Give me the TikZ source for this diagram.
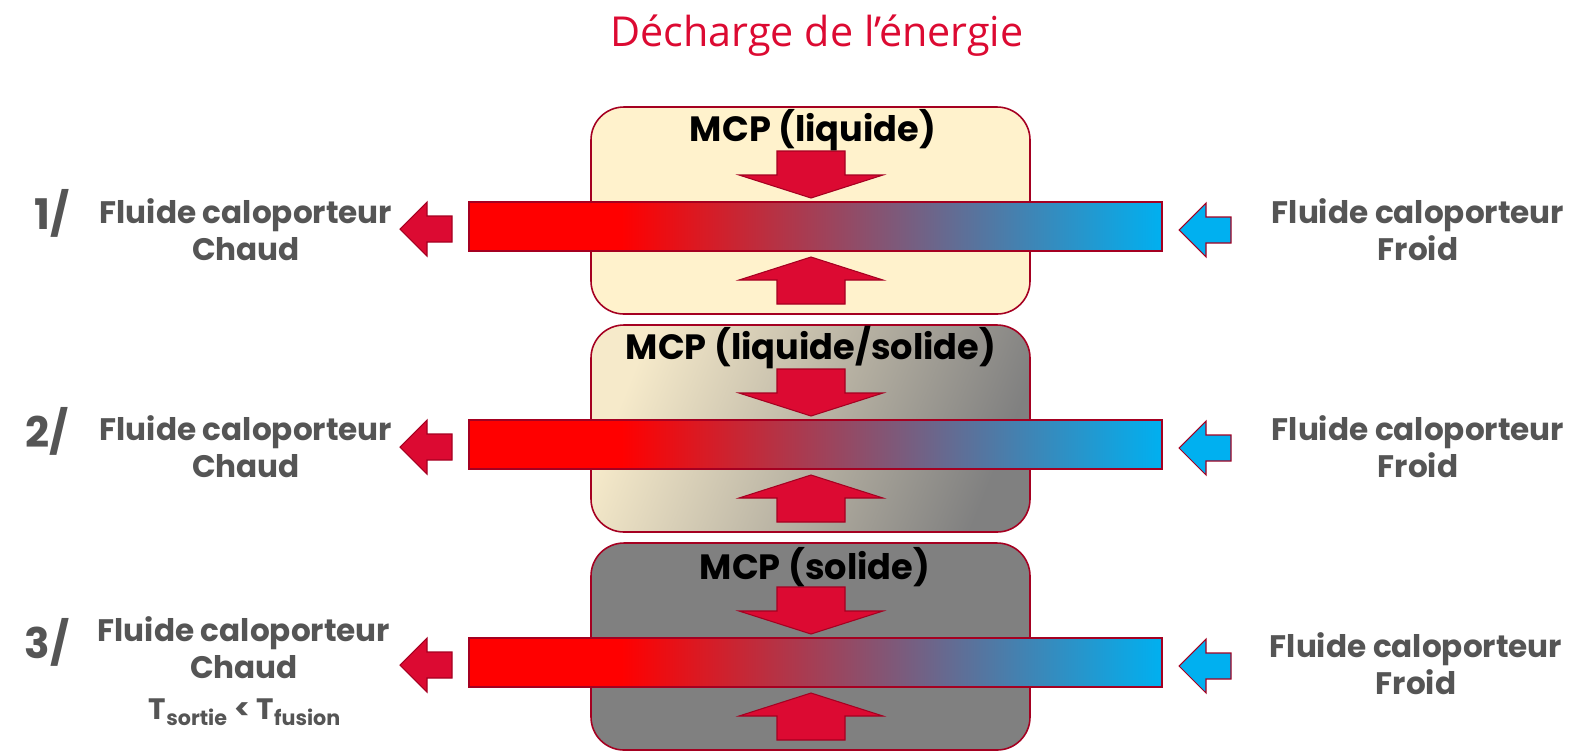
\documentclass[tikz,border=0pt]{standalone}
\usepackage{fontspec}
\setmainfont{Poppins}
\newfontfamily\titlefont{Open Sans}
\definecolor{mcpred}{RGB}{220,10,50}
\definecolor{borderred}{RGB}{165,0,33}
\definecolor{cream}{RGB}{255,242,204}
\definecolor{creamdark}{RGB}{246,234,202}
\definecolor{creamgray}{RGB}{196,188,166}
\definecolor{solidgray}{RGB}{128,128,128}
\definecolor{coldblue}{RGB}{0,176,240}
\definecolor{labelgray}{RGB}{85,85,85}
\pgfdeclarehorizontalshading{fluidshade}{100bp}{color(0bp)=(red); color(25bp)=(red); color(36bp)=(red); color(75bp)=(coldblue); color(100bp)=(coldblue)}
\tikzset{
  smallarrow/.pic={\path[pic actions] (0,0) -- (-27,-27) -- (-27,-13) -- (-52,-13) -- (-52,13) -- (-27,13) -- (-27,27) -- cycle;},
  pressarrow/.pic={\path[pic actions] (0,0) -- (-23,-72) -- (-23,-34) -- (-47,-34) -- (-47,34) -- (-23,34) -- (-23,72) -- cycle;}
}
\begin{document}
\begin{tikzpicture}[x=0.02cm,y=-0.02cm,
    mcpbox/.style={draw=borderred,line width=0.9pt,rounded corners=0.66cm},
    fluidbar/.style={draw=borderred,line width=0.9pt,shading=fluidshade},
    flowarrow/.style={draw=borderred,line width=0.6pt,fill=#1},
    mcplabel/.style={inner sep=0pt,font=\bfseries\fontsize{20}{22}\selectfont},
    fluidlabel/.style={inner sep=0pt,align=center,text=labelgray,font=\bfseries\fontsize{17.7}{21}\selectfont},
    stagenum/.style={inner sep=0pt,text=labelgray,font=\bfseries\fontsize{24}{26}\selectfont}]
  \useasboundingbox (0,0) rectangle (1594,752);
  \node[inner sep=0pt,text=mcpred,font=\titlefont\fontsize{23.5}{26}\selectfont] (title) at (817,36) {Décharge de l’énergie};
  % boxes
  \draw[mcpbox,fill=cream] (591,107) rectangle (1030,314);
  \draw[mcpbox,left color=creamdark,middle color=creamgray,right color=solidgray,shading angle=68] (591,325) rectangle (1030,532);
  \draw[mcpbox,fill=solidgray] (591,543) rectangle (1030,750);
  \foreach \top in {107,325,543}{
    \draw[fluidbar] (469,\top+95) rectangle (1162,\top+144);
    \pic[flowarrow=mcpred,rotate=-90] at (811,\top+91) {pressarrow};
    \pic[flowarrow=mcpred,rotate=90] at (811,\top+150) {pressarrow};
    \pic[flowarrow=mcpred,rotate=180] at (400,\top+122) {smallarrow};
    \pic[flowarrow=coldblue,rotate=180] at (1179,\top+123) {smallarrow};
  }
  \node[mcplabel] (mcp1) at (813,130) {MCP (liquide)};
  \node[mcplabel] (mcp2) at (811,347) {MCP (liquide/solide)};
  \node[mcplabel] (mcp3) at (815,567) {MCP (solide)};
  % labels
  \node[stagenum] (num1) at (52,213) {1/};
  \node[stagenum] (num2) at (47,431) {2/};
  \node[stagenum] (num3) at (47,642) {3/};
  \node[fluidlabel] (hot1) at (246,229.5) {Fluide caloporteur\\Chaud};
  \node[fluidlabel] (hot2) at (246,447) {Fluide caloporteur\\Chaud};
  \node[fluidlabel] (hot3) at (244,647.5) {Fluide caloporteur\\Chaud};
  \node[fluidlabel,font=\bfseries\fontsize{16.8}{18}\selectfont] (tout) at (245,712) {T\textsubscript{sortie} < T\textsubscript{fusion}};
  \node[fluidlabel] (cold1) at (1418,229.5) {Fluide caloporteur\\Froid};
  \node[fluidlabel] (cold2) at (1418,447) {Fluide caloporteur\\Froid};
  \node[fluidlabel] (cold3) at (1416,663.5) {Fluide caloporteur\\Froid};
\end{tikzpicture}
\end{document}
